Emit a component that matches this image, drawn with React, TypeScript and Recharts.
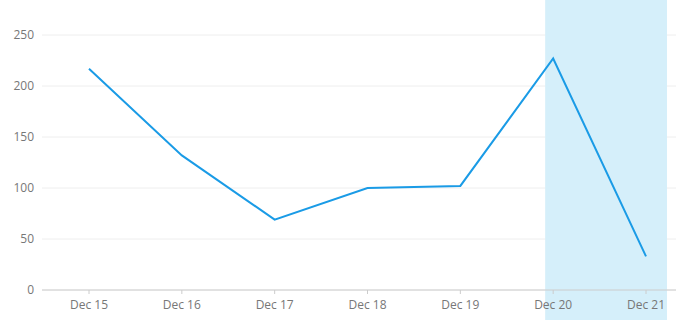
import { CartesianGrid, Line, LineChart, ReferenceArea, XAxis, YAxis } from 'recharts';

const days = ['Dec 15', 'Dec 16', 'Dec 17', 'Dec 18', 'Dec 19', 'Dec 20', 'Dec 21'];
const counts = [217, 132, 69, 100, 102, 227, 33];
const yTicks = [0, 50, 100, 150, 200, 250];

const data = days.map((day, i) => ({ day, count: counts[i] }));

// highlight band: stretches a bit past the two points and over the axis labels
const HighlightShape = (props: any) => {
  const { x, width } = props;
  return <rect x={x - 8} y={0} width={width + 29} height={320} fill="#d5effa" />;
};

export default function App() {
  return (
    <div style={{ position: 'absolute', left: 0, top: 0, fontFamily: 'Open Sans, Arial, sans-serif' }}>
      <LineChart width={676} height={330} data={data} margin={{ top: 35, right: 0, bottom: 10, left: 0 }}>
        <ReferenceArea x1="Dec 20" x2="Dec 21" ifOverflow="visible" shape={HighlightShape} />
        <CartesianGrid vertical={false} stroke="#eeeeee" />
        <XAxis
          dataKey="day"
          padding={{ left: 47, right: 30 }}
          stroke="#cccccc"
          tickSize={4}
          tickMargin={6}
          tick={{ fill: '#777777', fontSize: 12 }}
        />
        <YAxis
          width={42}
          domain={[0, 250]}
          ticks={yTicks}
          axisLine={false}
          tickLine={false}
          tick={{ fill: '#777777', fontSize: 12 }}
        />
        <Line
          type="linear"
          dataKey="count"
          stroke="#1a9be6"
          strokeWidth={2}
          dot={false}
          isAnimationActive={false}
        />
      </LineChart>
    </div>
  );
}
